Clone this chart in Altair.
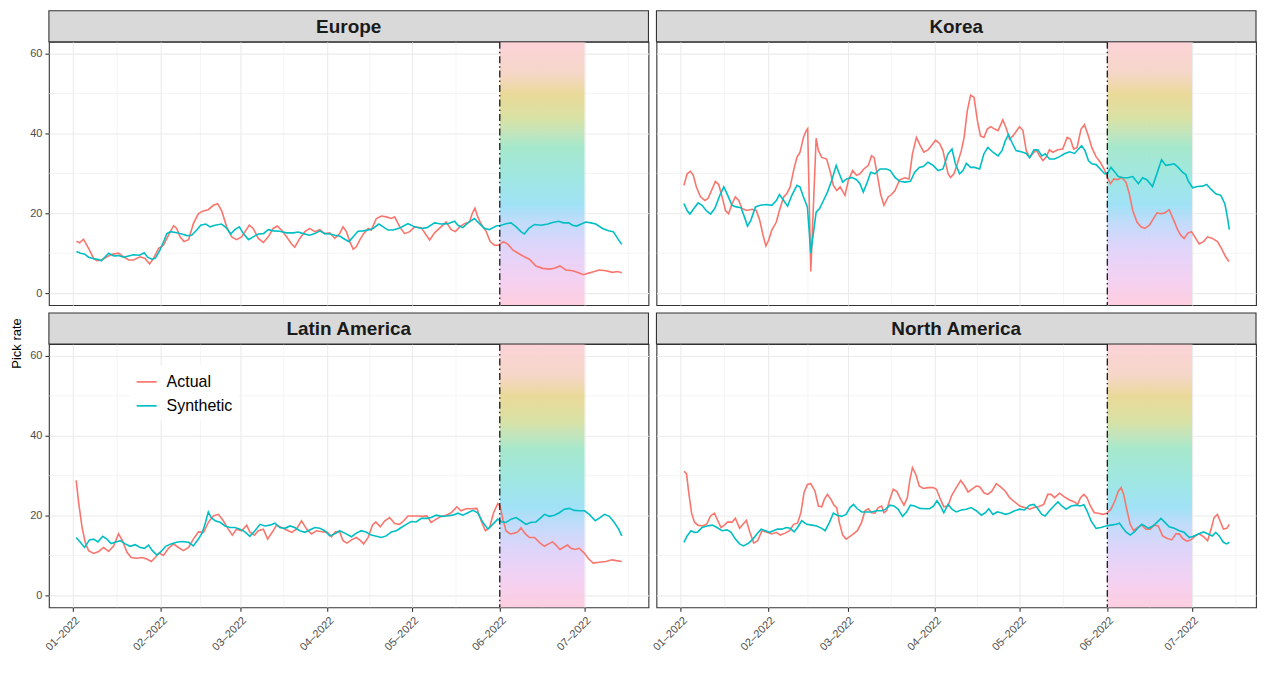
import altair as alt
import pandas as pd

FONT = "Liberation Sans"
REGIONS = ["Europe", "Korea", "Latin America", "North America"]
SERIES = ["Actual", "Synthetic"]
COLORS = ["#F8766D", "#00BFC4"]

# day offsets from 2022-01-01 and pick-rate values
EU_ACT = [(1.1,13.0),(2.2,12.6),(3.6,13.5),(5.4,11.2),(7.2,8.7),(8.4,8.1),(10.1,8.3),(11.9,9.1),(13.7,9.7),(16.0,10.0),(17.8,9.1),(19.6,8.3),(21.3,8.3),(23.7,9.1),(25.4,8.7),(27.0,7.3),(28.4,8.7),(30.2,11.2),(31.9,12.0),(33.7,14.5),(35.5,16.9),(36.6,16.2),(37.8,14.1),(39.2,12.9),(40.8,13.4),(42.5,17.4),(44.3,19.9),(46.0,20.6),(47.8,20.9),(49.6,22.0),(51.1,22.4),(52.5,20.7),(54.3,16.6),(56.1,14.1),(57.8,13.4),(59.6,14.1),(60.8,15.4),(62.3,17.0),(63.7,16.2),(65.5,13.7),(67.3,12.7),(69.0,14.1),(70.8,16.2),(72.2,16.8),(73.7,15.8),(75.5,14.1),(77.3,12.3),(78.4,11.5),(80.2,13.7),(82.0,15.4),(83.7,16.2),(85.5,15.4),(87.3,15.9),(89.0,14.9),(90.8,15.1),(92.6,13.7),(94.3,14.9),(95.5,16.6),(96.7,15.4),(97.9,12.9),(99.1,11.0),(100.2,11.6),(101.4,13.3),(102.8,14.9),(104.4,16.2),(105.5,15.8),(107.3,18.7),(109.1,19.3),(110.8,19.1),(112.6,18.7),(113.8,19.1),(115.6,16.6),(117.3,14.9),(119.1,15.4),(120.9,16.6),(123.2,16.4),(125.0,14.5),(126.2,13.3),(127.9,15.1),(129.7,16.3),(132.0,17.8),(133.8,15.9),(135.3,15.4),(136.8,16.6),(138.5,17.4),(140.3,17.8),(141.2,19.9),(142.2,21.3),(143.2,19.1),(144.4,17.3),(146.2,15.4),(147.6,12.9),(149.1,12.0),(150.6,12.0),(152.3,12.9),(153.8,12.3),(155.6,10.8),(158.0,9.8),(159.7,9.1),(161.5,8.5),(163.8,6.8),(166.2,6.2),(168.6,6.0),(170.3,6.2),(172.3,6.8),(174.4,5.8),(176.8,5.6),(178.9,5.1),(180.6,4.6),(182.5,5.0),(184.5,5.4),(186.2,5.8),(188.6,5.6),(190.9,5.2),(192.7,5.4),(194.2,5.1)]
EU_SYN = [(1.1,10.4),(2.5,10.0),(3.9,9.8),(5.4,9.0),(7.2,8.6),(8.6,8.5),(9.9,8.1),(11.3,9.1),(12.5,10.0),(14.3,9.3),(16.0,9.4),(17.8,9.0),(19.6,9.3),(21.3,9.6),(23.4,9.5),(25.1,10.1),(26.3,9.0),(27.8,8.5),(29.0,8.7),(30.7,10.8),(32.2,13.3),(33.1,14.9),(34.5,15.4),(36.6,15.1),(38.4,14.8),(40.2,14.4),(41.9,14.5),(43.7,15.8),(45.1,17.0),(46.9,17.3),(48.4,16.6),(50.2,17.0),(52.5,17.3),(54.1,16.4),(55.7,14.8),(57.2,15.9),(58.8,16.6),(60.2,14.9),(62.0,13.4),(63.7,14.1),(65.5,14.8),(67.3,14.9),(69.0,15.9),(70.8,15.6),(73.1,15.5),(75.5,15.1),(77.9,15.1),(79.6,15.3),(81.4,14.9),(83.7,14.5),(85.5,14.9),(87.3,15.6),(89.0,14.9),(90.8,14.8),(92.6,14.5),(94.3,14.3),(96.1,13.5),(97.6,12.9),(99.1,14.1),(100.8,15.5),(102.6,15.6),(104.4,15.8),(106.1,16.2),(108.2,17.3),(109.7,16.6),(111.4,15.8),(113.2,15.8),(115.6,16.3),(118.5,17.4),(120.9,16.6),(123.2,16.2),(125.2,16.4),(127.9,17.6),(130.3,17.3),(132.6,17.4),(135.0,18.0),(136.2,17.0),(137.9,16.4),(139.7,17.6),(142.0,18.7),(143.8,17.4),(145.6,16.2),(147.3,15.9),(149.7,16.8),(151.5,17.0),(153.2,17.4),(155.0,17.6),(156.8,16.6),(158.5,15.4),(159.7,14.8),(161.3,16.2),(163.3,17.2),(165.6,17.0),(168.0,17.3),(169.7,17.7),(171.9,18.0),(173.5,17.6),(175.4,17.6),(176.8,17.0),(178.2,16.8),(180.1,17.4),(181.5,17.8),(183.3,17.6),(185.0,17.3),(187.4,16.2),(189.5,15.6),(191.2,15.4),(193.0,13.4),(194.2,12.2)]
KR_ACT = [(1.1,27.0),(2.2,29.9),(3.4,30.5),(4.4,29.5),(5.5,26.6),(6.9,24.2),(8.5,23.2),(9.6,23.7),(11.1,26.1),(12.2,28.0),(13.4,27.2),(14.6,24.1),(15.8,20.7),(16.9,19.9),(18.1,22.4),(19.3,24.1),(20.5,23.2),(21.6,21.2),(23.4,20.7),(25.2,21.0),(26.7,20.7),(27.9,18.3),(29.1,14.5),(30.1,11.8),(31.1,13.3),(32.2,15.8),(33.8,17.8),(34.9,20.7),(36.4,24.1),(37.5,24.9),(38.7,26.6),(39.9,30.7),(41.1,34.0),(42.2,35.3),(43.4,39.0),(44.4,40.7),(44.9,41.2),(46.0,5.4),(47.9,38.8),(48.7,35.7),(49.9,34.0),(51.6,33.6),(52.8,30.7),(54.0,27.0),(55.2,25.7),(56.4,26.6),(58.1,24.5),(59.3,28.2),(60.8,30.7),(62.2,29.5),(63.4,29.9),(64.8,31.1),(66.4,32.0),(67.5,34.4),(68.4,34.0),(69.5,29.9),(70.7,24.9),(71.9,22.0),(73.4,24.1),(74.6,24.7),(75.8,25.7),(77.5,28.4),(79.3,28.9),(80.8,28.6),(82.0,34.9),(83.4,39.0),(84.6,37.2),(86.0,35.3),(87.5,35.9),(88.7,36.9),(90.2,38.3),(91.6,37.5),(92.8,35.7),(94.6,29.9),(95.5,29.0),(96.7,29.9),(97.9,32.4),(99.3,35.7),(100.3,39.0),(101.4,45.6),(102.6,49.6),(103.8,49.1),(105.0,43.2),(106.1,39.4),(107.3,39.0),(108.5,41.1),(109.7,41.7),(111.1,41.1),(112.3,40.7),(114.0,43.4),(115.2,41.3),(116.4,38.6),(117.6,39.4),(118.7,40.5),(119.9,41.7),(121.1,40.8),(122.3,35.7),(123.5,34.0),(124.6,34.9),(125.8,35.9),(127.0,34.4),(128.2,33.2),(129.3,34.0),(130.5,35.9),(131.7,35.3),(133.5,35.9),(135.2,36.1),(136.8,39.0),(137.9,38.6),(139.1,36.1),(140.3,36.5),(141.7,41.1),(142.9,42.2),(144.1,39.8),(145.5,36.5),(147.0,34.2),(148.5,32.8),(150.0,30.9),(151.1,28.9),(152.1,27.4),(153.3,28.6),(154.7,28.4),(156.1,29.0),(157.6,27.8),(158.8,24.9),(160.0,20.7),(161.5,17.8),(162.9,16.6),(164.3,16.2),(165.9,17.0),(167.0,18.3),(168.6,20.1),(170.0,19.9),(171.4,20.1),(172.9,20.9),(174.5,18.3),(175.9,15.9),(177.0,14.5),(178.2,13.7),(179.6,15.1),(180.8,15.4),(182.0,14.1),(183.5,12.3),(185.1,12.9),(186.5,14.1),(188.2,13.7),(190.0,12.9),(191.4,11.2),(192.9,9.1),(194.1,7.9)]
KR_SYN = [(1.1,22.4),(2.2,20.7),(3.2,19.8),(4.6,21.2),(6.1,22.6),(7.5,22.0),(9.1,20.6),(10.5,19.8),(12.0,21.2),(13.8,24.5),(15.2,26.6),(16.6,24.5),(18.1,22.0),(19.6,21.6),(21.3,21.4),(22.5,19.1),(23.6,16.8),(24.8,18.3),(26.4,21.6),(28.1,22.0),(30.2,22.2),(32.2,22.0),(33.8,23.2),(34.9,24.7),(36.4,23.2),(37.8,21.8),(39.3,24.5),(41.1,27.0),(42.2,26.6),(43.4,24.1),(44.8,21.6),(46.0,10.0),(47.9,20.3),(49.1,21.2),(50.5,23.2),(51.9,25.3),(53.4,28.2),(55.0,32.0),(56.1,29.9),(57.3,27.8),(58.7,28.6),(60.5,29.0),(62.2,28.4),(63.4,27.4),(64.6,25.3),(66.0,27.8),(67.2,30.3),(68.7,29.9),(70.5,31.1),(72.8,31.1),(74.2,30.7),(75.8,29.0),(77.5,28.0),(79.3,27.8),(81.3,28.0),(82.8,30.3),(84.4,31.5),(85.8,31.7),(87.5,32.8),(89.3,32.0),(91.1,30.7),(92.8,31.1),(94.6,34.9),(96.0,36.1),(97.2,32.4),(98.7,29.9),(99.9,30.7),(101.1,32.5),(102.6,31.5),(104.0,31.5),(105.8,31.1),(107.3,34.9),(108.7,36.5),(110.5,35.3),(112.3,34.4),(113.7,35.7),(114.9,38.2),(116.0,39.7),(117.2,37.8),(118.7,35.7),(120.5,35.4),(122.3,35.0),(123.5,33.9),(125.0,35.9),(126.4,35.9),(127.8,34.4),(129.0,34.9),(130.5,33.6),(132.3,33.6),(134.1,34.2),(135.8,34.9),(137.6,35.4),(139.4,35.0),(140.8,36.1),(141.9,36.9),(143.1,35.7),(144.3,33.2),(145.5,32.4),(147.0,32.2),(148.5,31.1),(150.0,29.9),(151.1,30.0),(152.3,31.5),(153.5,30.5),(154.9,29.2),(156.4,28.9),(158.2,28.9),(160.0,29.2),(162.0,27.4),(163.5,28.9),(165.0,28.4),(167.0,26.7),(168.6,30.0),(170.2,33.4),(171.7,32.0),(173.3,32.2),(174.7,32.4),(176.1,31.5),(177.6,30.3),(178.8,29.7),(179.6,28.2),(181.2,26.4),(182.9,26.7),(184.7,26.8),(186.2,27.2),(187.6,26.1),(189.4,24.9),(191.2,24.5),(192.6,22.4),(193.5,19.1),(194.2,15.9)]
LA_ACT = [(1.0,28.8),(1.9,23.2),(3.1,17.0),(4.2,13.3),(5.4,11.2),(7.2,10.5),(9.0,11.0),(10.7,12.0),(12.5,11.0),(14.3,12.4),(16.0,15.4),(17.4,13.7),(19.0,10.8),(20.5,9.5),(22.5,9.3),(24.3,9.5),(26.0,9.1),(27.6,8.5),(29.0,9.5),(30.4,10.6),(31.9,10.0),(33.7,11.8),(35.5,12.9),(37.2,12.0),(39.0,11.2),(40.8,12.0),(42.5,14.1),(44.3,15.9),(46.1,15.8),(47.8,18.3),(49.6,19.9),(51.4,20.3),(53.1,18.7),(54.7,16.8),(56.3,15.1),(57.8,16.6),(59.6,16.2),(61.4,17.6),(62.5,15.9),(64.1,15.1),(65.5,16.2),(67.3,16.6),(68.8,14.1),(70.4,15.8),(72.0,17.6),(73.7,17.0),(75.5,16.4),(77.3,15.8),(79.0,16.6),(80.8,18.7),(82.6,16.6),(84.3,15.4),(86.1,16.2),(88.5,15.9),(90.0,15.8),(91.4,14.7),(92.8,15.9),(94.3,15.9),(95.5,13.7),(96.9,13.1),(98.5,13.9),(100.2,14.5),(101.7,13.7),(102.8,12.9),(104.4,14.5),(105.9,17.6),(107.1,18.4),(108.7,17.2),(110.3,18.7),(112.0,19.5),(113.8,18.0),(115.5,17.8),(117.0,18.7),(118.5,19.9),(120.3,19.9),(122.0,19.9),(123.8,19.8),(125.2,19.9),(126.7,18.3),(128.5,19.1),(130.3,19.8),(132.0,20.1),(133.8,20.7),(135.8,22.2),(137.3,21.2),(139.1,21.7),(140.9,21.7),(142.9,21.8),(144.4,18.7),(145.9,16.2),(147.4,17.0),(148.8,20.7),(150.3,23.0),(151.1,22.4),(152.1,19.1),(153.2,16.2),(154.7,15.4),(156.2,15.6),(157.4,15.9),(158.5,16.9),(160.1,15.4),(161.5,14.5),(163.3,14.5),(165.0,13.3),(166.8,12.3),(168.3,12.9),(169.7,13.4),(170.9,12.6),(172.3,11.5),(173.5,12.0),(175.0,12.6),(176.2,11.8),(177.7,11.5),(179.1,11.8),(180.9,10.6),(182.5,9.1),(184.1,8.1),(186.2,8.3),(188.6,8.5),(190.7,8.9),(192.3,8.7),(194.2,8.5)]
LA_SYN = [(1.0,14.5),(2.5,13.3),(4.0,12.0),(5.7,13.9),(7.2,14.1),(8.7,13.4),(10.4,14.8),(11.9,14.1),(13.4,13.0),(14.8,13.3),(16.6,13.7),(18.4,12.9),(20.1,12.3),(21.9,12.7),(23.7,12.0),(25.2,11.8),(26.6,12.6),(28.0,11.2),(29.6,10.1),(31.1,11.0),(32.7,12.3),(34.6,12.9),(36.6,13.3),(38.4,13.5),(40.8,13.3),(42.5,12.4),(44.3,14.1),(45.7,15.8),(46.6,17.8),(47.8,20.9),(48.8,19.5),(50.2,18.7),(52.0,18.3),(53.7,17.4),(55.5,17.0),(57.2,17.0),(59.0,16.6),(60.8,15.9),(62.5,14.8),(64.3,16.2),(66.1,17.8),(67.8,17.4),(69.6,17.6),(71.4,18.1),(73.1,17.0),(74.9,16.8),(76.7,17.4),(78.4,17.0),(80.2,16.2),(82.0,15.8),(83.7,16.4),(85.5,17.0),(87.3,16.8),(89.0,16.2),(90.8,14.9),(92.6,15.4),(94.3,16.2),(96.1,15.6),(98.5,14.7),(100.2,15.6),(102.0,16.2),(103.8,15.8),(105.5,15.1),(107.3,14.8),(109.1,14.5),(110.8,14.9),(112.6,15.9),(114.4,16.2),(116.1,17.0),(117.9,17.8),(119.7,18.5),(121.4,18.4),(123.2,19.3),(125.2,19.3),(126.7,19.5),(128.5,20.1),(130.3,19.8),(132.0,19.9),(134.4,20.1),(136.2,20.6),(137.9,20.1),(139.7,20.7),(141.5,21.3),(143.2,20.7),(145.0,18.3),(146.8,16.6),(148.5,17.8),(150.3,19.1),(151.8,18.4),(153.2,18.3),(155.0,19.1),(156.8,19.5),(158.5,18.7),(160.3,17.8),(162.1,18.3),(163.8,18.4),(165.6,19.5),(166.8,20.3),(168.6,19.8),(170.3,20.1),(172.1,20.7),(173.9,21.6),(175.6,21.8),(177.4,21.3),(179.2,21.2),(181.0,21.2),(182.7,20.3),(184.8,18.7),(186.5,19.5),(188.1,20.3),(189.8,19.8),(191.5,18.3),(193.1,16.6),(194.2,14.9)]
NA_ACT = [(1.1,31.1),(2.0,30.5),(2.8,25.7),(3.8,20.6),(4.8,18.4),(6.0,17.6),(7.5,17.4),(9.1,17.8),(10.5,19.9),(11.9,20.6),(13.1,18.7),(14.2,17.0),(15.4,17.6),(16.6,18.4),(18.1,18.3),(19.3,19.3),(20.8,16.8),(22.0,17.8),(23.2,18.8),(24.4,15.9),(25.8,13.1),(27.2,13.7),(28.7,16.2),(30.5,15.8),(32.2,15.4),(33.8,15.8),(35.2,15.1),(36.9,15.6),(38.5,16.2),(39.9,17.8),(41.3,18.1),(42.5,20.7),(43.6,25.7),(44.8,27.8),(46.0,28.0),(47.5,26.1),(48.7,22.4),(49.9,22.2),(50.8,24.1),(51.9,25.3),(53.1,24.1),(54.2,22.6),(55.2,22.0),(56.1,18.3),(57.3,15.1),(58.5,14.1),(59.9,14.8),(61.1,15.4),(62.5,16.2),(64.0,18.3),(65.2,21.2),(66.4,21.7),(67.5,20.7),(68.7,20.6),(69.9,22.0),(71.1,22.4),(71.9,20.7),(72.8,21.2),(74.0,24.1),(75.2,26.6),(76.5,26.0),(77.8,24.1),(79.0,22.6),(80.2,24.5),(81.1,29.0),(82.0,32.0),(83.2,30.3),(84.4,27.4),(85.8,26.8),(87.5,27.0),(89.3,27.0),(90.5,26.6),(91.9,24.1),(93.1,22.2),(94.6,22.4),(95.8,24.9),(97.2,26.6),(99.1,28.8),(100.5,27.4),(101.7,25.9),(103.1,26.6),(104.6,27.4),(105.8,27.2),(107.3,25.7),(108.7,25.3),(110.1,26.1),(111.7,28.0),(113.2,27.2),(114.9,26.1),(116.4,24.5),(118.2,23.4),(120.0,22.4),(121.7,22.0),(123.5,21.6),(125.0,22.0),(126.6,22.2),(128.5,22.8),(129.9,25.3),(131.1,25.3),(132.3,24.5),(134.1,25.6),(135.8,24.7),(137.6,23.9),(139.4,23.4),(140.5,22.8),(141.5,24.5),(142.7,25.3),(143.8,24.5),(145.0,22.4),(146.4,20.7),(147.8,20.6),(149.4,20.3),(150.9,20.6),(152.3,21.6),(153.7,23.7),(154.9,26.1),(155.9,27.0),(156.8,25.3),(158.0,21.2),(159.1,17.8),(160.3,16.2),(161.7,17.0),(163.2,17.6),(164.7,16.6),(166.2,16.6),(167.6,17.6),(169.0,17.4),(170.6,14.9),(172.1,14.3),(173.8,13.9),(175.3,15.4),(176.5,15.4),(177.6,14.3),(179.2,13.6),(180.6,13.9),(182.0,14.8),(183.5,15.4),(185.1,14.7),(186.5,13.7),(187.9,17.0),(188.8,19.5),(190.0,20.3),(190.9,18.7),(192.1,16.6),(193.3,16.8),(194.2,17.8)]
NA_SYN = [(1.1,13.3),(2.2,14.9),(3.6,16.2),(4.8,15.8),(6.0,15.9),(7.5,17.0),(9.3,17.4),(11.1,17.6),(12.8,17.0),(14.6,16.2),(16.4,16.4),(17.8,15.8),(19.3,14.1),(20.8,12.9),(22.2,12.4),(24.0,13.1),(25.5,14.1),(26.9,15.4),(28.4,16.6),(29.9,16.2),(31.4,15.8),(32.8,16.2),(34.2,16.6),(35.8,16.6),(37.3,17.0),(38.7,16.8),(40.1,15.9),(41.3,17.0),(42.8,18.7),(44.6,17.8),(46.4,17.6),(48.1,17.4),(49.9,16.8),(51.1,16.2),(52.6,18.3),(54.0,20.6),(55.4,20.1),(56.9,19.8),(58.5,20.3),(59.9,22.0),(61.1,22.8),(62.5,21.7),(64.0,20.9),(65.8,20.9),(67.5,20.9),(69.3,21.2),(71.1,21.2),(72.6,21.6),(74.0,22.6),(75.4,22.4),(76.9,21.6),(78.5,19.8),(79.9,20.9),(81.3,22.6),(82.8,22.4),(84.6,21.8),(86.4,21.7),(88.1,21.7),(89.5,22.4),(90.7,23.7),(91.9,22.4),(93.1,20.7),(94.6,22.8),(96.0,21.6),(97.5,20.9),(99.3,21.4),(101.1,21.6),(102.8,22.0),(104.6,21.2),(106.4,20.1),(107.8,20.7),(109.0,21.7),(110.5,20.3),(112.0,20.9),(113.4,20.7),(114.9,20.3),(116.4,20.6),(118.2,21.2),(120.0,21.6),(121.7,21.4),(123.5,22.6),(125.0,22.8),(126.4,21.7),(127.8,20.3),(129.0,19.9),(130.5,21.2),(132.1,22.4),(133.5,23.4),(134.9,22.4),(136.4,21.6),(138.2,22.4),(139.9,22.6),(141.5,22.4),(142.7,22.7),(143.8,21.2),(145.2,18.7),(147.0,16.8),(148.8,17.0),(150.5,17.4),(152.3,17.6),(154.1,17.8),(155.3,18.1),(156.4,17.0),(157.6,15.9),(159.1,15.1),(160.6,15.9),(162.0,17.0),(163.2,17.8),(164.3,17.4),(165.5,16.8),(167.0,17.3),(168.6,18.3),(170.0,19.3),(171.4,18.3),(172.9,17.2),(174.7,16.8),(176.5,16.2),(178.2,15.8),(180.0,14.5),(181.5,14.8),(183.2,15.4),(185.1,15.9),(186.7,15.4),(188.2,14.9),(189.4,15.8),(190.6,14.9),(192.1,13.3),(193.3,12.9),(194.2,13.3)]

MONTH_DAYS = [0, 31, 59, 90, 120, 151, 181]          # 01-2022 .. 07-2022
MINOR_X_DAYS = [15.5, 45, 74.5, 105, 135.5, 166, 196.5]
Y_TICKS = [0, 20, 40, 60]
Y_MINOR = [10, 30, 50]
PRIDE = (151, 181)                                    # June 2022
X_RANGE = (-8.65, 203.65)
Y_RANGE = (-3, 63)

W, H, HEAD = 601, 264, 31
GAP = 8
BASE = pd.Timestamp("2022-01-01", tz="UTC")


def ms(day):
    return int((BASE + pd.Timedelta(days=day)).timestamp() * 1000)


SERIES_DATA = {
    "Europe": (EU_ACT, EU_SYN),
    "Korea": (KR_ACT, KR_SYN),
    "Latin America": (LA_ACT, LA_SYN),
    "North America": (NA_ACT, NA_SYN),
}
rows = []
for region, pair in SERIES_DATA.items():
    for name, pts in zip(SERIES, pair):
        for d, v in pts:
            rows.append({"region": region, "series": name, "date": ms(d), "value": v})
df = pd.DataFrame(rows)

minor_x_df = pd.DataFrame({"date": [ms(d) for d in MINOR_X_DAYS]})
minor_y_df = pd.DataFrame({"v": Y_MINOR})
pride_df = pd.DataFrame({"start": [ms(PRIDE[0])], "end": [ms(PRIDE[1])]})

GRADIENT = {
    "gradient": "linear", "x1": 0, "y1": 0, "x2": 0, "y2": 1,
    "stops": [
        {"offset": 0.0, "color": "#FCCFD5"},
        {"offset": 0.12, "color": "#F4D3C3"},
        {"offset": 0.20, "color": "#E8D690"},
        {"offset": 0.29, "color": "#D6DF9C"},
        {"offset": 0.35, "color": "#BCE3B8"},
        {"offset": 0.40, "color": "#9EE6C8"},
        {"offset": 0.52, "color": "#97E5E0"},
        {"offset": 0.62, "color": "#98DFF5"},
        {"offset": 0.69, "color": "#BED8FA"},
        {"offset": 0.78, "color": "#DCD1FA"},
        {"offset": 0.90, "color": "#F3CDF1"},
        {"offset": 1.0, "color": "#FDCADC"},
    ],
}

GRID = "#EBEBEB"


def panel(region, bottom, left, legend=False):
    xs = alt.Scale(type="utc", domain=[ms(X_RANGE[0]), ms(X_RANGE[1])], nice=False)
    ys = alt.Scale(domain=list(Y_RANGE), nice=False, zero=False)
    major = [ms(d) for d in MONTH_DAYS]
    if bottom:
        xa = alt.Axis(values=major, format="%m\u2013%Y", labelAngle=-45, labelAlign="right",
                      labelBaseline="top", title=None, grid=True, ticks=True)
    else:
        xa = alt.Axis(values=major, labels=False, ticks=False, title=None, grid=True)
    if left:
        ya = alt.Axis(values=Y_TICKS, grid=True, title="Pick rate",
                      titleY=-1 if bottom else H / 2, titleOpacity=1 if bottom else 0)
    else:
        ya = alt.Axis(values=Y_TICKS, labels=False, ticks=False, title=None, grid=True)

    X = lambda f: alt.X(f, scale=xs, axis=xa)
    Y = lambda f: alt.Y(f, scale=ys, axis=ya)

    strip_df = pd.DataFrame({"t": [region]})
    strip_bg = alt.Chart(strip_df).mark_rect(fill="#D9D9D9", stroke="#333333", strokeWidth=1.1).encode(
        x=alt.value(0), x2=alt.value(W), y=alt.value(-HEAD), y2=alt.value(0))
    strip_txt = alt.Chart(strip_df).mark_text(
        font=FONT, fontSize=19, fontWeight="bold", color="#1A1A1A", baseline="middle", align="center"
    ).encode(text="t:N", x=alt.value(W / 2), y=alt.value(-HEAD / 2 + 1))

    gx = alt.Chart(minor_x_df).mark_rule(color=GRID, strokeWidth=0.55).encode(x=X("date:T"))
    gy = alt.Chart(minor_y_df).mark_rule(color=GRID, strokeWidth=0.55).encode(y=Y("v:Q"))
    rect = alt.Chart(pride_df).mark_rect(fill=GRADIENT, opacity=0.92).encode(
        x=X("start:T"), x2="end:T", y=alt.datum(Y_RANGE[0]), y2=alt.datum(Y_RANGE[1]))
    if legend:
        leg = alt.Legend(title=None, orient="none", legendX=81, legendY=21,
                         symbolType="stroke", symbolStrokeWidth=1.7, symbolSize=400,
                         labelFontSize=16, labelFont=FONT, labelColor="#000000",
                         fillColor="white", padding=6, rowPadding=5, labelOffset=9)
    else:
        leg = None
    lines = alt.Chart(df[df.region == region]).mark_line(strokeWidth=1.6).encode(
        x=X("date:T"), y=Y("value:Q"),
        color=alt.Color("series:N", scale=alt.Scale(domain=SERIES, range=COLORS), legend=leg))
    vline = alt.Chart(pride_df).mark_rule(color="#1A1A1A", strokeWidth=1.3,
                                          strokeDash=[7, 3, 1.5, 3]).encode(x=X("start:T"))
    return alt.layer(gx, gy, rect, lines, vline, strip_bg, strip_txt).properties(width=W, height=H)


chart = alt.concat(
    panel("Europe", False, True),
    panel("Korea", False, False),
    panel("Latin America", True, True, legend=True),
    panel("North America", True, False),
    columns=2,
).properties(
    spacing={"row": GAP + HEAD, "column": GAP},
    bounds="flush",
    padding={"left": 2, "top": 0, "right": 0, "bottom": 0},
    background="white",
).resolve_scale(color="independent").resolve_legend(color="independent").configure_view(
    stroke="#333333", strokeWidth=1.1
).configure_axis(
    domain=False, gridColor=GRID, gridWidth=1.1, tickColor="#333333", tickWidth=1.1, tickSize=4,
    labelFont=FONT, labelFontSize=11, labelColor="#4D4D4D", labelPadding=3,
    titleFont=FONT, titleFontSize=13, titleFontWeight="normal", titleColor="#000000", titlePadding=6
)

chart.save("out.html", embed_options={"renderer": "svg", "actions": False})
